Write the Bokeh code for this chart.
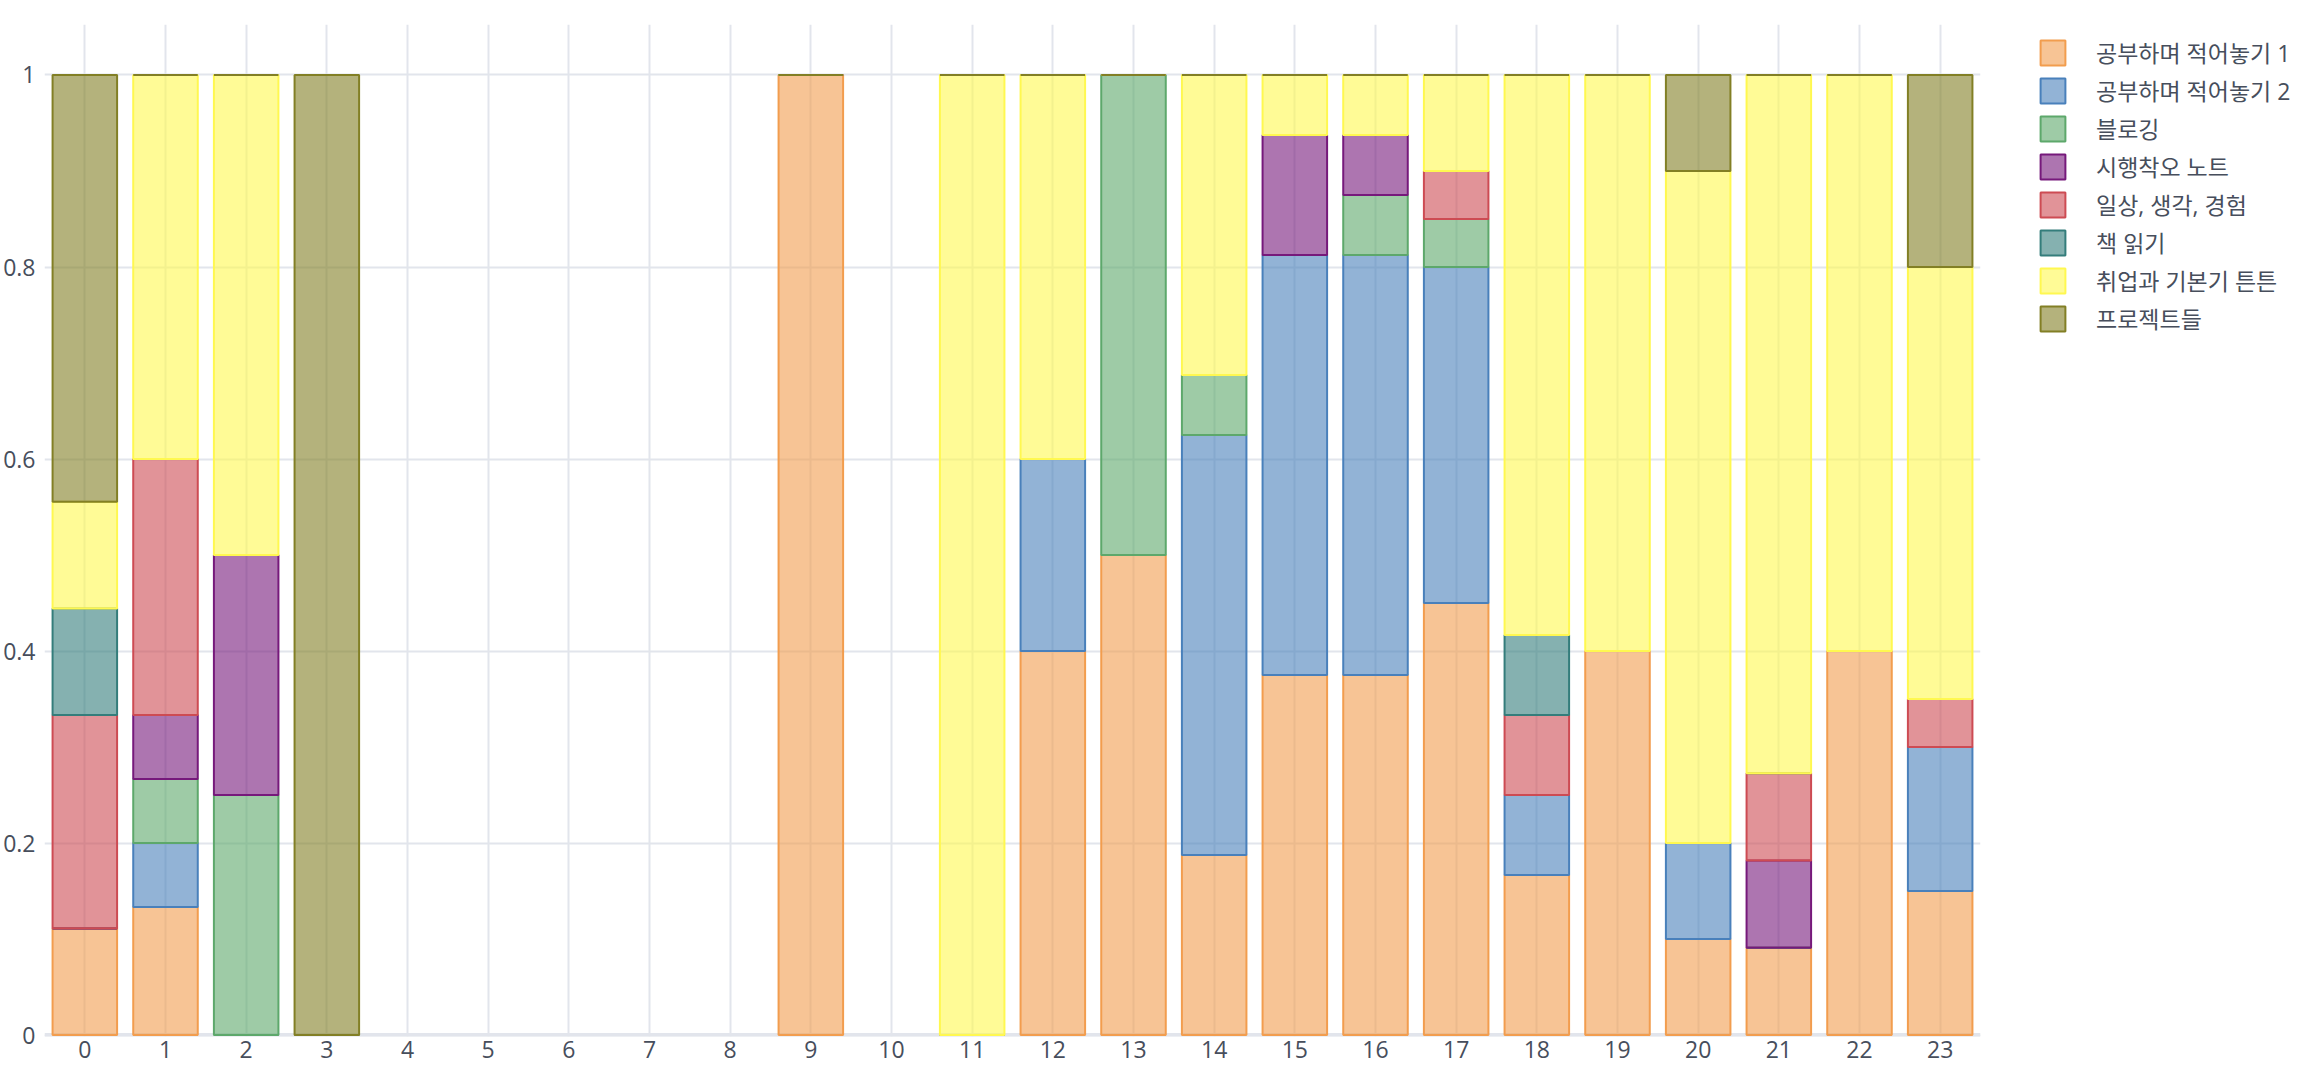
from bokeh.plotting import figure
from bokeh.models import ColumnDataSource, Range1d, FixedTicker, Legend, LegendItem, Span
from bokeh.embed import file_html
from bokeh.resources import INLINE

hours = [0, 1, 2, 3, 9, 11, 12, 13, 14, 15, 16, 17, 18, 19, 20, 21, 22, 23]
series_names = ["공부하며 적어놓기 1", "공부하며 적어놓기 2", "블로깅", "시행착오 노트",
                "일상, 생각, 경험", "책 읽기", "취업과 기본기 튼튼", "프로젝트들"]
study1   = [0.1111, 0.1333, 0,    0, 1, 0, 0.4, 0.5, 0.1875, 0.375,  0.375,  0.45, 0.1667, 0.4, 0.1, 0.0909, 0.4, 0.15]
study2   = [0,      0.0667, 0,    0, 0, 0, 0.2, 0,   0.4375, 0.4375, 0.4375, 0.35, 0.0833, 0,   0.1, 0,      0,   0.15]
blogging = [0,      0.0667, 0.25, 0, 0, 0, 0,   0.5, 0.0625, 0,      0.0625, 0.05, 0,      0,   0,   0,      0,   0]
trials   = [0,      0.0667, 0.25, 0, 0, 0, 0,   0,   0,      0.125,  0.0625, 0,    0,      0,   0,   0.0909, 0,   0]
daily    = [0.2222, 0.2667, 0,    0, 0, 0, 0,   0,   0,      0,      0,      0.05, 0.0833, 0,   0,   0.0909, 0,   0.05]
books    = [0.1111, 0,      0,    0, 0, 0, 0,   0,   0,      0,      0,      0,    0.0833, 0,   0,   0,      0,   0]
jobs     = [0.1111, 0.4,    0.5,  0, 0, 1, 0.4, 0,   0.3125, 0.0625, 0.0625, 0.1,  0.5834, 0.6, 0.7, 0.7273, 0.6, 0.45]
projects = [0.4445, 0,      0,    1, 0, 0, 0,   0,   0,      0,      0,      0,    0,      0,   0.1, 0,      0,   0.2]
colors = ["#F29D4E", "#4980BB", "#5DA86B", "#76197B", "#CD4B53", "#347D7B", "#FFF850", "#827F25"]
x_ticks = list(range(24))
y_ticks = [0, 0.2, 0.4, 0.6, 0.8, 1]
y_labels = ["0", "0.2", "0.4", "0.6", "0.8", "1"]

values = [study1, study2, blogging, trials, daily, books, jobs, projects]
keys = [f"s{i}" for i in range(len(values))]
data = {"hour": hours}
for k, v in zip(keys, values):
    data[k] = v
src = ColumnDataSource(data)

FONT = "'Open Sans', 'Noto Sans CJK KR', sans-serif"
TEXT = "#474e5c"
GRID = "#E2E5EC"

p = figure(frame_width=1936, frame_height=1012, output_backend="svg", toolbar_location=None,
           x_range=Range1d(-0.5, 23.5), y_range=Range1d(-0.0015, 1.0526),
           min_border_left=36, min_border_top=24, min_border_bottom=40, min_border_right=300)
p.outline_line_color = None

renderers = p.vbar_stack(keys, x="hour", width=0.8, source=src, fill_color=colors,
                         fill_alpha=0.6, line_color=colors, line_width=2)

p.xaxis.ticker = FixedTicker(ticks=x_ticks)
p.yaxis.ticker = FixedTicker(ticks=y_ticks)
p.yaxis.major_label_overrides = {t: l for t, l in zip(y_ticks, y_labels)}
for ax in (p.xaxis[0], p.yaxis[0]):
    ax.axis_line_color = None
    ax.major_tick_line_color = None
    ax.minor_tick_line_color = None
    ax.major_label_text_font = FONT
    ax.major_label_text_font_size = "23px"
    ax.major_label_text_color = TEXT
p.xaxis.major_label_standoff = -2
p.yaxis.major_label_standoff = 3

p.xgrid.grid_line_color = GRID
p.xgrid.grid_line_width = 2
p.ygrid.grid_line_color = GRID
p.ygrid.grid_line_width = 2
p.add_layout(Span(location=0, dimension="width", line_color=GRID, line_width=4, level="underlay"))

items = [LegendItem(label=n, renderers=[r]) for n, r in zip(series_names, renderers)]
legend = Legend(items=items, location=(57, 701), orientation="vertical",
                glyph_width=31, glyph_height=31, label_height=25, spacing=4,
                label_standoff=28, padding=0, margin=0,
                label_text_font=FONT, label_text_font_size="23px", label_text_color=TEXT,
                background_fill_alpha=0, border_line_color=None)
p.add_layout(legend, "right")

open("out.html", "w").write(file_html(p, INLINE))
